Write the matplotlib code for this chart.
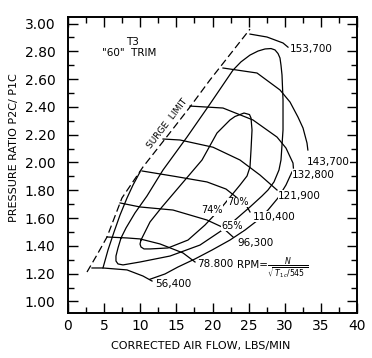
import math

import matplotlib
matplotlib.use("Agg")
import matplotlib.pyplot as plt
from matplotlib.ticker import MultipleLocator

plt.rcParams["font.family"] = ["DejaVu Sans"]

# surge limit (dashed)
surge_x = [2.63, 4.01, 5.40, 7.47, 10.38, 13.43, 16.89, 19.65, 25.19]
surge_y = [1.212, 1.335, 1.464, 1.745, 1.968, 2.169, 2.40, 2.594, 2.96]

# corrected speed lines
speed_labels = ["56,400", "78.800", "96,300", "110,400", "121,900", "132,800", "143,700", "153,700"]
speed_x = [
    [3.32, 4.84, 8.17, 10.38, 11.63],
    [5.40, 8.17, 9.97, 12.73, 15.92, 17.58],
    [7.20, 9.97, 14.53, 19.24, 21.31, 22.84],
    [10.24, 14.8, 19.24, 21.87, 23.8, 24.64, 25.19],
    [13.15, 15.5, 20.07, 23.8, 26.57, 28.93],
    [16.89, 21.45, 25.6, 28.93, 30.17, 31.14, 31.2],
    [21.45, 26.16, 29.34, 30.73, 31.83, 32.53, 33.08, 33.2],
    [25.19, 27.54, 29.76, 30.45],
]
speed_y = [
    [1.241, 1.241, 1.227, 1.183, 1.147],
    [1.464, 1.457, 1.45, 1.414, 1.349, 1.284],
    [1.709, 1.68, 1.658, 1.586, 1.536, 1.464],
    [1.939, 1.90, 1.86, 1.809, 1.73, 1.694, 1.644],
    [2.169, 2.162, 2.11, 2.018, 1.91, 1.802],
    [2.406, 2.392, 2.306, 2.183, 2.104, 1.996, 1.96],
    [2.68, 2.644, 2.522, 2.435, 2.327, 2.248, 2.14, 2.09],
    [2.924, 2.903, 2.86, 2.83],
]
speed_label_x = [12.0, 17.85, 23.4, 25.6, 29.1, 31.0, 33.1, 30.7]
speed_label_y = [1.126, 1.27, 1.42, 1.61, 1.76, 1.91, 2.0, 2.82]

# efficiency contours
eff74_x = [10.1, 10.38, 11.35, 13.01, 16.19, 18.55, 20.62, 22.42, 23.11, 24.36, 25.12, 25.33, 25.47,
           25.33, 25.19, 24.78, 23.81, 21.31, 18.96, 16.61, 13.84, 11.35, 10.52, 10.1, 9.97, 10.1]
eff74_y = [1.442, 1.471, 1.572, 1.68, 1.874, 2.018, 2.212, 2.306, 2.331, 2.356, 2.345, 2.32, 2.234,
           2.09, 1.968, 1.903, 1.838, 1.68, 1.55, 1.442, 1.385, 1.378, 1.378, 1.392, 1.413, 1.442]

eff70_x = [7.34, 8.03, 9.27, 10.93, 13.15, 16.47, 19.65, 22.84, 23.94, 25.19, 26.3, 27.27, 28.1,
           28.65, 29.07, 29.34, 29.48, 29.62, 29.76, 29.76, 29.48, 29.2, 28.51, 27.68, 26.85, 25.19,
           22.0, 18.27, 14.12, 9.97, 7.61, 6.92, 6.64, 6.64, 6.92, 7.34]
eff70_y = [1.457, 1.529, 1.637, 1.759, 1.946, 2.183, 2.421, 2.665, 2.724, 2.773, 2.802, 2.817, 2.82,
           2.81, 2.784, 2.752, 2.70, 2.63, 2.45, 2.234, 2.018, 1.946, 1.86, 1.802, 1.759, 1.68,
           1.536, 1.406, 1.327, 1.284, 1.263, 1.27, 1.291, 1.327, 1.385, 1.457]

eff65_left_x = [4.84, 5.54, 6.37, 7.2, 8.17, 9.0, 9.97]
eff65_left_y = [1.241, 1.371, 1.5, 1.622, 1.745, 1.838, 1.932]
eff65_right_x = [11.35, 13.43, 15.22, 17.58, 19.93, 22.42, 24.5, 26.3, 27.68, 29.07, 30.17, 31.0]
eff65_right_y = [1.16, 1.198, 1.248, 1.306, 1.37, 1.442, 1.514, 1.586, 1.658, 1.745, 1.838, 1.932]

eff_labels = ["74%", "70%", "65%"]
eff_label_x = [19.9, 23.5, 22.7]
eff_label_y = [1.655, 1.715, 1.545]

x_ticks = [0, 5, 10, 15, 20, 25, 30, 35, 40]
y_ticks = [1.0, 1.2, 1.4, 1.6, 1.8, 2.0, 2.2, 2.4, 2.6, 2.8, 3.0]

fig = plt.figure(figsize=(3.72, 3.58), dpi=100)
ax = fig.add_axes([68 / 372, 1 - 313 / 358, 289 / 372, 296 / 358])
ax.set_xlim(0, 40)
ax.set_ylim(0.917, 3.047)

lw = 0.9
ax.plot(surge_x, surge_y, color="black", lw=lw, ls=(0, (6, 3)))
for xs, ys in zip(speed_x, speed_y):
    ax.plot(xs, ys, color="black", lw=lw)
for xs, ys in [(eff74_x, eff74_y), (eff70_x, eff70_y),
               (eff65_left_x, eff65_left_y), (eff65_right_x, eff65_right_y)]:
    ax.plot(xs, ys, color="black", lw=lw)

for label, x, y in zip(speed_labels, speed_label_x, speed_label_y):
    ax.text(x, y, label, fontsize=7.5, ha="left", va="center",
            bbox=dict(facecolor="white", edgecolor="none", pad=0.3))
for label, x, y in zip(eff_labels, eff_label_x, eff_label_y):
    ax.text(x, y, label, fontsize=7, ha="center", va="center",
            bbox=dict(facecolor="white", edgecolor="none", pad=0.2))

ax.text(8.86, 2.867, "T3", fontsize=7.5, ha="center", va="center")
ax.text(8.4, 2.79, '"60"  TRIM', fontsize=7.5, ha="center", va="center")

p1 = ax.transData.transform((surge_x[4], surge_y[4]))
p2 = ax.transData.transform((surge_x[7], surge_y[7]))
angle = math.degrees(math.atan2(p2[1] - p1[1], p2[0] - p1[0]))
ax.text(13.7, 2.277, "SURGE  LIMIT", fontsize=6.5, rotation=angle,
        ha="center", va="center", rotation_mode="anchor")

ax.text(23.4, 1.262, "RPM=", fontsize=7.5, ha="left", va="center")
ax.text(30.5, 1.235, r"$\frac{N}{\sqrt{\;T_{1c}/545\;}}$", fontsize=8, ha="center", va="center")

ax.set_xticks(x_ticks)
ax.set_yticks(y_ticks)
ax.set_yticklabels([f"{v:.2f}" for v in y_ticks])
ax.xaxis.set_minor_locator(MultipleLocator(2.5))
ax.yaxis.set_minor_locator(MultipleLocator(0.1))
ax.tick_params(which="both", direction="in", top=True, right=True, labelsize=10, width=1.0)
ax.tick_params(axis="y", which="both", pad=9)
ax.tick_params(axis="x", which="both", pad=4)
ax.tick_params(which="major", length=7)
ax.tick_params(which="minor", length=4)
for s in ax.spines.values():
    s.set_linewidth(1.4)

ax.set_xlabel("CORRECTED AIR FLOW, LBS/MIN", fontsize=8)
ax.set_ylabel("PRESSURE RATIO P2C/ P1C", fontsize=8)
ax.xaxis.set_label_coords(0.46, -0.095)
ax.yaxis.set_label_coords(-0.17, 0.56)

fig.savefig("out.png", dpi=100)
